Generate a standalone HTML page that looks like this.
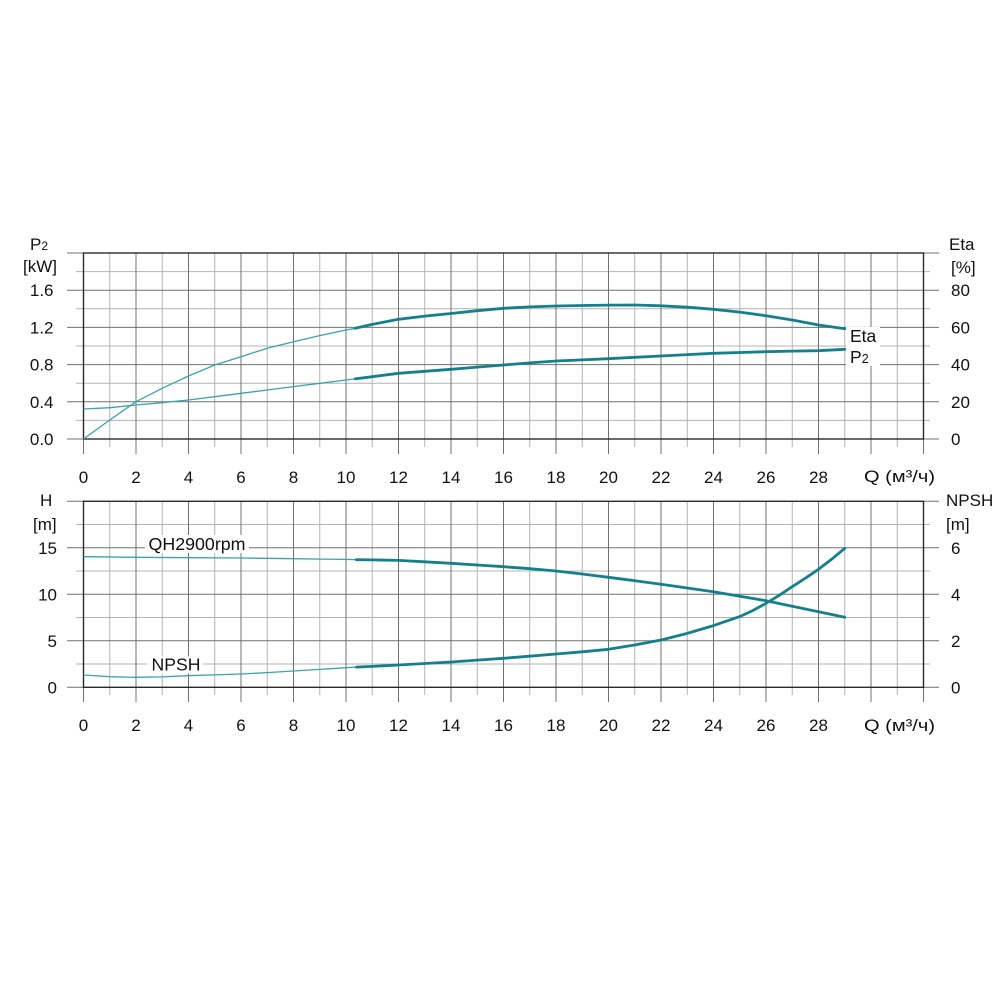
<!DOCTYPE html>
<html>
<head>
<meta charset="utf-8">
<style>
html,body{margin:0;padding:0;background:#fff;}
svg{display:block;}
text{font-family:"Liberation Sans",Arial,sans-serif;fill:#111;}
</style>
</head>
<body>
<svg width="1000" height="1000" viewBox="0 0 1000 1000" xmlns="http://www.w3.org/2000/svg">
<rect width="1000" height="1000" fill="#fff"/>

<!-- ================= TOP CHART ================= -->
<g stroke-width="1" fill="none">
  <g stroke="#b4b4b4">
    <path d="M109.75 253V447 M162.25 253V447 M214.75 253V447 M267.25 253V447 M319.75 253V447 M372.25 253V447 M424.75 253V447 M477.25 253V447 M529.75 253V447 M582.25 253V447 M634.75 253V447 M687.25 253V447 M739.75 253V447 M792.25 253V447 M844.75 253V447 M897.25 253V447"/>
    <path d="M76 420.4H930 M76 383.2H930 M76 346H930 M76 308.8H930 M76 271.6H930"/>
  </g>
  <g stroke="#707070">
    <path d="M136 253V454 M188.5 253V454 M241 253V454 M293.5 253V454 M346 253V454 M398.5 253V454 M451 253V454 M503.5 253V454 M556 253V454 M608.5 253V454 M661 253V454 M713.5 253V454 M766 253V454 M818.5 253V454 M871 253V454"/>
    <path d="M67 401.8H939 M67 364.6H939 M67 327.4H939 M67 290.2H939"/>
    <path d="M83.5 439V454 M923.5 439V454 M67 439H83.5 M923.5 439H939 M67 253H83.5 M923.5 253H939"/>
  </g>
</g>
<rect x="846" y="327" width="34" height="39" fill="#fff"/>
<rect x="83.5" y="253" width="840" height="186" fill="none" stroke="#2a2a2a" stroke-width="1.4"/>

<!-- Eta curve -->
<polyline fill="none" stroke="#3aa3ad" stroke-width="1.3" stroke-linejoin="round"
 points="83.5,439 109.75,420 136,401.7 162.25,388.3 188.5,376 214.75,365 241,356.7 267.25,348.3 293.5,341.7 319.75,335.6 346,330 355.19,328.3"/>
<polyline fill="none" stroke="#15808c" stroke-width="2.8" stroke-linejoin="round" stroke-linecap="round"
 points="355.19,328.3 372.25,324.4 398.5,319.3 424.75,316.1 451,313.5 477.25,310.7 503.5,308.3 529.75,306.9 556,306 582.25,305.5 608.5,305.1 634.75,305 661,305.8 687.25,307.2 713.5,309.3 739.75,312.1 766,315.7 792.25,320 818.5,325 844.75,328.7"/>
<!-- P2 curve -->
<polyline fill="none" stroke="#3aa3ad" stroke-width="1.3" stroke-linejoin="round"
 points="83.5,409 109.75,407.7 136,405 162.25,402.7 188.5,400 214.75,396.7 241,393.3 267.25,390 293.5,386.6 319.75,383.3 346,380 355.19,378.9"/>
<polyline fill="none" stroke="#15808c" stroke-width="2.8" stroke-linejoin="round" stroke-linecap="round"
 points="355.19,378.9 372.25,376.7 398.5,373.3 424.75,371.3 451,369.3 477.25,367.1 503.5,365 529.75,362.9 556,361 582.25,359.9 608.5,358.7 634.75,357.3 661,356 687.25,354.6 713.5,353.3 739.75,352.5 766,351.7 792.25,351.1 818.5,350.7 844.75,349.3"/>

<g font-size="17">
  <text x="53.5" y="296" text-anchor="end">1.6</text>
  <text x="53.5" y="333.4" text-anchor="end">1.2</text>
  <text x="53.5" y="370.6" text-anchor="end">0.8</text>
  <text x="53.5" y="407.8" text-anchor="end">0.4</text>
  <text x="53.5" y="445" text-anchor="end">0.0</text>
  <text x="951" y="296">80</text>
  <text x="951" y="333.4">60</text>
  <text x="951" y="370.6">40</text>
  <text x="951" y="407.8">20</text>
  <text x="951" y="445">0</text>
  <g text-anchor="middle">
    <text x="83.5" y="483">0</text>
    <text x="136" y="483">2</text>
    <text x="188.5" y="483">4</text>
    <text x="241" y="483">6</text>
    <text x="293.5" y="483">8</text>
    <text x="346" y="483">10</text>
    <text x="398.5" y="483">12</text>
    <text x="451" y="483">14</text>
    <text x="503.5" y="483">16</text>
    <text x="556" y="483">18</text>
    <text x="608.5" y="483">20</text>
    <text x="661" y="483">22</text>
    <text x="713.5" y="483">24</text>
    <text x="766" y="483">26</text>
    <text x="818.5" y="483">28</text>
  </g>
  <text x="864" y="482" textLength="71" lengthAdjust="spacingAndGlyphs">Q (м³/ч)</text>
  <text x="30" y="250">P<tspan font-size="12">2</tspan></text>
  <text x="23" y="272" textLength="34" lengthAdjust="spacingAndGlyphs">[kW]</text>
  <text x="949" y="250">Eta</text>
  <text x="951" y="273">[%]</text>
</g>
<g font-size="17.5">
  <text x="850" y="342">Eta</text>
  <text x="850" y="363">P<tspan font-size="12.5">2</tspan></text>
</g>

<!-- ================= BOTTOM CHART ================= -->
<g stroke-width="1" fill="none">
  <g stroke="#b4b4b4">
    <path d="M109.75 501.3V695 M162.25 501.3V695 M214.75 501.3V695 M267.25 501.3V695 M319.75 501.3V695 M372.25 501.3V695 M424.75 501.3V695 M477.25 501.3V695 M529.75 501.3V695 M582.25 501.3V695 M634.75 501.3V695 M687.25 501.3V695 M739.75 501.3V695 M792.25 501.3V695 M844.75 501.3V695 M897.25 501.3V695"/>
    <path d="M76 664.05H930 M76 617.55H930 M76 571.05H930 M76 524.55H930"/>
  </g>
  <g stroke="#707070">
    <path d="M136 501.3V702 M188.5 501.3V702 M241 501.3V702 M293.5 501.3V702 M346 501.3V702 M398.5 501.3V702 M451 501.3V702 M503.5 501.3V702 M556 501.3V702 M608.5 501.3V702 M661 501.3V702 M713.5 501.3V702 M766 501.3V702 M818.5 501.3V702 M871 501.3V702"/>
    <path d="M67 640.8H939 M67 594.3H939 M67 547.8H939"/>
    <path d="M83.5 687.3V702 M923.5 687.3V702 M67 687.3H83.5 M923.5 687.3H939 M67 501.3H83.5 M923.5 501.3H939"/>
  </g>
</g>
<rect x="145" y="535" width="104" height="18" fill="#fff"/>
<rect x="147" y="656.5" width="56" height="17" fill="#fff"/>
<rect x="83.5" y="501.3" width="840" height="186" fill="none" stroke="#2a2a2a" stroke-width="1.4"/>

<!-- QH curve -->
<polyline fill="none" stroke="#3aa3ad" stroke-width="1.3" stroke-linejoin="round"
 points="83.5,556.7 136,557.3 188.5,557.7 241,558 293.5,558.7 319.75,559.1 346,559.4 356.5,559.7"/>
<polyline fill="none" stroke="#15808c" stroke-width="2.8" stroke-linejoin="round" stroke-linecap="round"
 points="356.5,559.7 372.25,559.9 398.5,560.4 424.75,561.8 451,563.3 477.25,565 503.5,566.7 529.75,568.7 556,571 582.25,574 608.5,577.3 634.75,580.7 661,584.3 687.25,588 713.5,591.7 739.75,596.2 766,600.7 792.25,606.2 818.5,611.7 844.75,617.3"/>
<!-- NPSH curve -->
<polyline fill="none" stroke="#3aa3ad" stroke-width="1.3" stroke-linejoin="round"
 points="83.5,675 109.75,676.7 136,677.3 162.25,676.9 188.5,675.7 214.75,674.9 241,674 267.25,672.6 293.5,671 319.75,669.4 346,667.7 356.5,667.1"/>
<polyline fill="none" stroke="#15808c" stroke-width="2.8" stroke-linejoin="round" stroke-linecap="round"
 points="356.5,667.1 372.25,666.4 398.5,665 424.75,663.5 451,662 477.25,660.1 503.5,658.3 529.75,656.2 556,654 582.25,651.8 608.5,649.3 634.75,645 661,640 687.25,633.4 713.5,625.6 739.75,616.6 752.9,610.5 766,603.3 779.1,595.4 792.25,586.7 805.4,578.2 818.5,569.3 831.6,559.3 844.75,548.3"/>

<g font-size="17">
  <text x="57" y="553.8" text-anchor="end">15</text>
  <text x="57" y="600.3" text-anchor="end">10</text>
  <text x="57" y="646.8" text-anchor="end">5</text>
  <text x="57" y="693.3" text-anchor="end">0</text>
  <text x="951" y="553.8">6</text>
  <text x="951" y="600.3">4</text>
  <text x="951" y="646.8">2</text>
  <text x="951" y="693.3">0</text>
  <g text-anchor="middle">
    <text x="83.5" y="731">0</text>
    <text x="136" y="731">2</text>
    <text x="188.5" y="731">4</text>
    <text x="241" y="731">6</text>
    <text x="293.5" y="731">8</text>
    <text x="346" y="731">10</text>
    <text x="398.5" y="731">12</text>
    <text x="451" y="731">14</text>
    <text x="503.5" y="731">16</text>
    <text x="556" y="731">18</text>
    <text x="608.5" y="731">20</text>
    <text x="661" y="731">22</text>
    <text x="713.5" y="731">24</text>
    <text x="766" y="731">26</text>
    <text x="818.5" y="731">28</text>
  </g>
  <text x="864" y="731" textLength="71" lengthAdjust="spacingAndGlyphs">Q (м³/ч)</text>
  <text x="40" y="506">H</text>
  <text x="33" y="530">[m]</text>
  <text x="946" y="506">NPSH</text>
  <text x="946" y="530">[m]</text>
</g>
<g font-size="17.5">
  <text x="148.5" y="550" textLength="97" lengthAdjust="spacingAndGlyphs">QH2900rpm</text>
  <text x="151.5" y="670.5" textLength="49" lengthAdjust="spacingAndGlyphs">NPSH</text>
</g>
</svg>
</body>
</html>
